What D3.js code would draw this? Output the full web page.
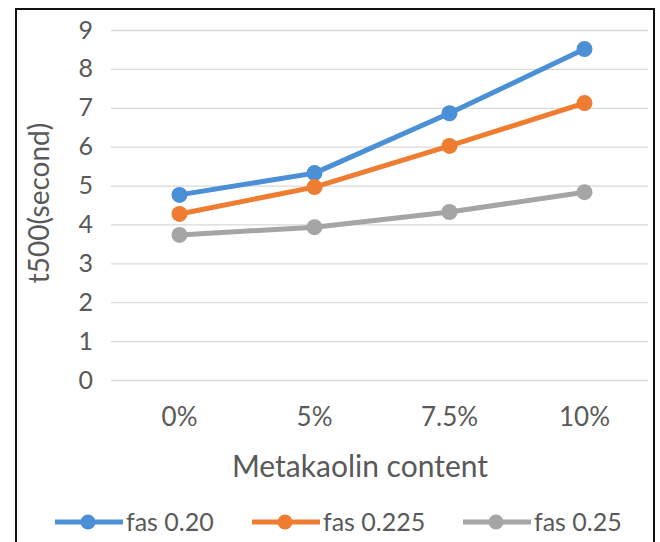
<!DOCTYPE html>
<html><head><meta charset="utf-8">
<script src="https://cdn.jsdelivr.net/npm/d3@7"></script>
<style>body{margin:0;background:#fff}svg{display:block}text{font-family:Lato,"Open Sans",sans-serif;fill:#595959}</style>
</head><body><svg id="c" width="660" height="542"></svg>
<script>
const categories = ["0%", "5%", "7.5%", "10%"];
const seriesNames = ["fas 0.20", "fas 0.225", "fas 0.25"];
const fas020 = [4.76, 5.32, 6.86, 8.51];
const fas0225 = [4.27, 4.96, 6.02, 7.12];
const fas025 = [3.73, 3.93, 4.32, 4.83];
const yTicks = [0,1,2,3,4,5,6,7,8,9];
const colors = ["#4b8fd7", "#ee7d31", "#a5a5a5"];
const series = [fas020, fas0225, fas025];

const svg = d3.select("#c");
svg.append("rect").attr("x",16).attr("y",9).attr("width",638).attr("height",540)
  .attr("fill","#fff").attr("stroke","#111").attr("stroke-width",2);

const x = d3.scaleBand().domain(categories).range([112, 652]);
const y = d3.scaleLinear().domain([0,9]).range([380, 30]);

// gridlines
const grid = svg.append("g").attr("transform","translate(111,0)")
  .call(d3.axisLeft(y).tickValues(yTicks).tickSize(-537).tickFormat(""));
grid.select(".domain").remove();
grid.selectAll("line").attr("stroke","#d9d9d9").attr("stroke-width",1.3);

// y tick labels
const ya = svg.append("g").attr("transform","translate(111,0)")
  .call(d3.axisLeft(y).tickValues(yTicks).tickSize(0).tickPadding(18));
ya.select(".domain").remove();
ya.selectAll("text").style("font-size","25px").attr("fill","#6a6a6a").style("font-family","Lato, sans-serif");

// x labels
const xa = svg.append("g").attr("transform","translate(0,380)")
  .call(d3.axisBottom(x).tickSize(0).tickPadding(28));
xa.select(".domain").remove();
xa.selectAll("text").style("font-size","26px").attr("fill","#6a6a6a").style("font-family","Lato, sans-serif");

// axis titles
svg.append("text").attr("x",360).attr("y",477).attr("text-anchor","middle")
  .style("font-size","30px").text("Metakaolin content");
svg.append("text").attr("transform","translate(49,203) rotate(-90)").attr("text-anchor","middle")
  .style("font-size","28px").text("t500(second)");

const line = d3.line().x((d,i)=>x(categories[i])+x.bandwidth()/2).y(d=>y(d));
series.forEach((s,k)=>{
  svg.append("path").datum(s).attr("d",line).attr("fill","none")
    .attr("stroke",colors[k]).attr("stroke-width",5).attr("stroke-linejoin","round");
  svg.selectAll(null).data(s).enter().append("circle")
    .attr("cx",(d,i)=>x(categories[i])+x.bandwidth()/2).attr("cy",d=>y(d))
    .attr("r",8).attr("fill",colors[k]);
});

// legend
const legX = [55, 252, 463];
seriesNames.forEach((n,k)=>{
  const g = svg.append("g").attr("transform",`translate(${legX[k]},522)`);
  g.append("line").attr("x1",0).attr("x2",68).attr("stroke",colors[k]).attr("stroke-width",5);
  g.append("circle").attr("cx",33).attr("r",7.5).attr("fill",colors[k]);
  g.append("text").attr("x",71).attr("y",9).style("font-size","25px").text(n);
});
</script></body></html>
